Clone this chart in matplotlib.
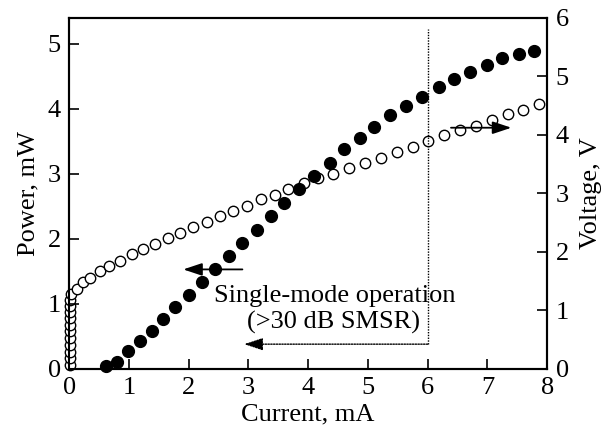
import numpy as np
import matplotlib
matplotlib.use('Agg')
import matplotlib.pyplot as plt

plt.rcParams['font.family'] = ['Liberation Serif', 'DejaVu Serif']
plt.rcParams['font.size'] = 19

# Output power (filled circles, left axis)
cur_p = [0.62, 0.80, 0.99, 1.19, 1.39, 1.57, 1.78, 2.01, 2.22, 2.44, 2.68, 2.90, 3.14,
         3.38, 3.60, 3.85, 4.09, 4.36, 4.60, 4.86, 5.11, 5.37, 5.64, 5.91, 6.19, 6.44,
         6.71, 6.99, 7.25, 7.53, 7.78]
power = [0.05, 0.11, 0.27, 0.43, 0.59, 0.76, 0.95, 1.14, 1.33, 1.54, 1.74, 1.94, 2.13,
         2.35, 2.55, 2.76, 2.96, 3.16, 3.38, 3.55, 3.72, 3.91, 4.05, 4.19, 4.33, 4.46,
         4.57, 4.68, 4.78, 4.85, 4.89]

# Voltage (open circles, right axis)
cur_v = [0.01, 0.01, 0.01, 0.01, 0.01, 0.01, 0.01, 0.01, 0.01, 0.01, 0.02, 0.04,
         0.14, 0.24, 0.35, 0.51, 0.67, 0.85, 1.05, 1.24, 1.44, 1.65, 1.86, 2.07, 2.30,
         2.53, 2.75, 2.98, 3.21, 3.44, 3.67, 3.93, 4.17, 4.42, 4.69, 4.95, 5.22, 5.48,
         5.75, 6.01, 6.28, 6.54, 6.81, 7.07, 7.34, 7.60, 7.87]
voltage = [0.07, 0.18, 0.29, 0.40, 0.52, 0.64, 0.75, 0.87, 0.98, 1.08, 1.18, 1.28,
           1.37, 1.48, 1.56, 1.67, 1.76, 1.85, 1.97, 2.05, 2.14, 2.24, 2.33, 2.43, 2.51,
           2.61, 2.70, 2.79, 2.90, 2.98, 3.07, 3.17, 3.26, 3.33, 3.44, 3.52, 3.61, 3.71,
           3.79, 3.89, 3.99, 4.08, 4.16, 4.26, 4.35, 4.43, 4.52]

fig = plt.figure(figsize=(6.06, 4.36), dpi=100)
ax = fig.add_axes([0.114, 0.154, 0.789, 0.805])
ax2 = ax.twinx()

ax.plot(cur_p, power, 'o', color='black', ms=8.5, zorder=3, clip_on=False)
ax2.plot(cur_v, voltage, 'o', mfc='white', mec='black', mew=1.0, ms=7.5, zorder=3,
         clip_on=False)
ax.set_zorder(ax2.get_zorder() + 1)
ax.patch.set_visible(False)

ax.set_xlim(0, 8)
ax.set_ylim(0, 5.4)
ax2.set_ylim(0, 6)
ax.set_xticks(range(0, 9))
ax.set_yticks(range(0, 6))
ax2.set_yticks(range(0, 7))

for a in (ax, ax2):
    a.tick_params(direction='in', length=7, width=1.2, pad=6)
    for s in a.spines.values():
        s.set_linewidth(1.5)
ax.tick_params(top=False, right=False)

ax.set_xlabel('Current, mA', labelpad=3)
ax.set_ylabel('Power, mW', labelpad=6)
ax2.set_ylabel('Voltage, V', labelpad=8)

# single-mode region marker
ax.plot([6, 6], [0.38, 5.23], color='black', lw=1.0, ls=(0, (1, 1)))
ax.annotate('', xy=(2.93, 0.38), xytext=(6, 0.38),
            arrowprops=dict(arrowstyle='-|>,head_length=0.6,head_width=0.2',
                            color='black', lw=1.0, ls=(0, (1, 1)), shrinkA=0, shrinkB=0))
ax.text(4.45, 1.12, 'Single-mode operation', ha='center', va='center')
ax.text(4.43, 0.72, '(>30 dB SMSR)', ha='center', va='center')

# axis pointer arrows
ax.annotate('', xy=(1.91, 1.53), xytext=(2.90, 1.53),
            arrowprops=dict(arrowstyle='-|>,head_length=0.6,head_width=0.2',
                            color='black', lw=1.3, shrinkA=0, shrinkB=0))
ax.annotate('', xy=(7.40, 3.71), xytext=(6.39, 3.71),
            arrowprops=dict(arrowstyle='-|>,head_length=0.6,head_width=0.2',
                            color='black', lw=1.3, shrinkA=0, shrinkB=0))

fig.savefig('out.png', dpi=100)
